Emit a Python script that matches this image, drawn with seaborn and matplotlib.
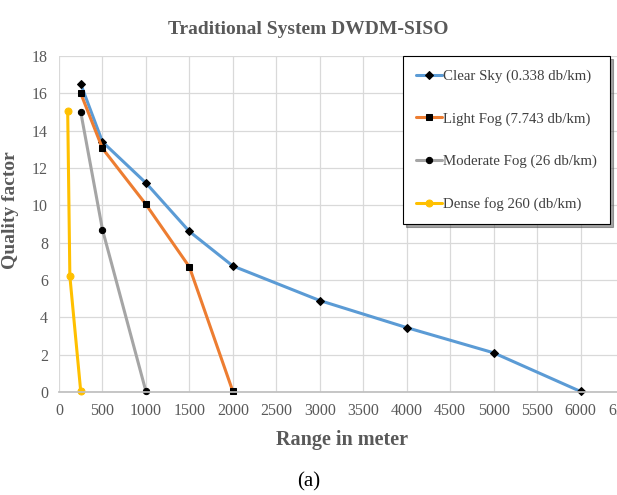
import matplotlib
matplotlib.use("Agg")
import matplotlib.pyplot as plt
import seaborn as sns
import pandas as pd

clear_x = [250, 500, 1000, 1500, 2000, 3000, 4000, 5000, 6000]
clear_y = [16.5, 13.4, 11.2, 8.6, 6.75, 4.9, 3.45, 2.1, 0.03]
light_x = [250, 500, 1000, 1500, 2000]
light_y = [16.0, 13.05, 10.05, 6.7, 0.03]
moderate_x = [250, 500, 1000]
moderate_y = [15.0, 8.7, 0.03]
dense_x = [100, 125, 250]
dense_y = [15.05, 6.2, 0.03]

labels = ["Clear Sky (0.338 db/km)", "Light Fog (7.743 db/km)",
          "Moderate Fog (26 db/km)", "Dense fog 260 (db/km)"]
series = [(clear_x, clear_y), (light_x, light_y), (moderate_x, moderate_y), (dense_x, dense_y)]
colors = ["#5B9BD5", "#ED7D31", "#A5A5A5", "#FFC000"]
markers = ["D", "s", "o", "o"]
mfc = ["black", "black", "black", "#FFC000"]
msize = [4, 5, 4.5, 5]

sns.set_theme(style="white")
plt.rcParams['font.family'] = ['Liberation Serif', 'DejaVu Serif']

fig = plt.figure(figsize=(6.17, 4.95), dpi=100)
ax = fig.add_axes([59/617, (495-392)/495, 565/617, (392-56)/495])

for (xs, ys), lab, c, m, fc, ms in zip(series, labels, colors, markers, mfc, msize):
    df = pd.DataFrame({"x": xs, "y": ys})
    sns.lineplot(data=df, x="x", y="y", ax=ax, color=c, lw=2.2, marker=m,
                 markerfacecolor=fc, markeredgecolor=fc, markersize=ms, label=lab,
                 sort=False, clip_on=False)

ax.set_xlim(0, 6500)
ax.set_ylim(0, 18)
ax.set_xticks(range(0, 6501, 500))
ax.set_yticks(range(0, 19, 2))
ax.grid(True, color="#D9D9D9", lw=0.9)
ax.set_axisbelow(True)
for s in ["top", "right", "left"]:
    ax.spines[s].set_visible(False)
ax.spines["bottom"].set_color("#BFBFBF")
ax.tick_params(axis="both", labelsize=11.5, colors="#595959", length=0, pad=8)

ax.set_xlabel("Range in meter", fontsize=14.5, fontweight="bold", color="#595959", labelpad=8)
ax.set_ylabel("Quality factor", fontsize=14, fontweight="bold", color="#595959", labelpad=6)
ax.yaxis.set_label_coords(-0.07, (392 - 210) / 336)
fig.text(0.5, 1 - 30/495, "Traditional System DWDM-SISO", ha="center", va="center",
         fontsize=14, fontweight="bold", color="#595959")
fig.text(0.5, 1 - 482/495, "(a)", ha="center", va="center", fontsize=15, color="black")

leg = ax.legend(loc="upper right", bbox_to_anchor=(0.976, 1.0), frameon=True, shadow=True,
                fancybox=False, fontsize=10.7, labelspacing=1.95, handlelength=1.7,
                handletextpad=0.1, borderpad=0.9, borderaxespad=0)
leg.get_frame().set_edgecolor("black")
leg.get_frame().set_linewidth(0.8)
for t in leg.get_texts():
    t.set_color("#404040")

fig.savefig("out.png", dpi=100)
